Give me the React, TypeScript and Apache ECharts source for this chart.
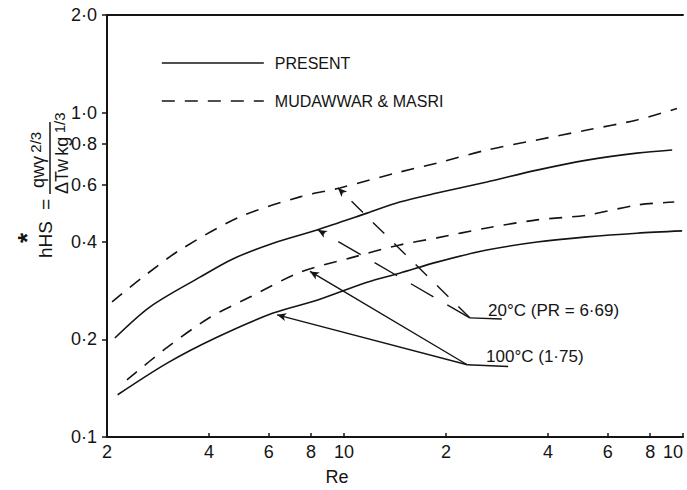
import React, { useEffect, useRef } from "react";
import * as echarts from "echarts";

const FONT = "'Liberation Sans', 'DejaVu Sans', sans-serif";
const INK = "#141414";

// Axis ticks
const xTickValues = [2, 4, 6, 8, 10, 20, 40, 60, 80, 100];
const xTickLabels = ["2", "4", "6", "8", "10", "2", "4", "6", "8", "10"];
const yTickValues = [0.1, 0.2, 0.4, 0.6, 0.8, 1, 2];
const yTickLabels = ["0·1", "0·2", "0·4", "0·6", "0·8", "1·0", "2·0"];

// Curves: [Re, h*HS]
const present20C = [
  [2.11, 0.202], [2.68, 0.252], [3.76, 0.311], [4.7, 0.354], [6.18, 0.396],
  [8.32, 0.435], [11.7, 0.49], [14.6, 0.53], [18.8, 0.565], [26.4, 0.611],
  [37.1, 0.665], [52.1, 0.714], [73.1, 0.75], [92.9, 0.767],
];
const mudawwar20C = [
  [2.07, 0.261], [2.55, 0.311], [3.28, 0.377], [4.93, 0.477], [7.42, 0.55],
  [9.73, 0.586], [14.6, 0.656], [18.8, 0.699], [26.4, 0.767], [37.1, 0.824],
  [52.1, 0.884], [73.1, 0.949], [96, 1.03],
];
const present100C = [
  [2.15, 0.135], [3.01, 0.169], [4.22, 0.203], [6.18, 0.241], [8.32, 0.264],
  [11.7, 0.3], [14.6, 0.32], [18.8, 0.346], [26.4, 0.377], [37.1, 0.399],
  [52.1, 0.414], [73.1, 0.425], [99.4, 0.432],
];
const mudawwar100C = [
  [2.29, 0.15], [3.01, 0.189], [4.03, 0.234], [5.28, 0.27], [7.42, 0.322],
  [10.4, 0.356], [14.6, 0.391], [18.8, 0.411], [26.4, 0.441], [37.1, 0.467],
  [52.1, 0.483], [73.1, 0.519], [94.2, 0.53],
];

// Annotation leaders
const hub20C = [23.5, 0.233];
const tail20C = [29.2, 0.231];
const hub100C = [23.1, 0.167];
const tail100C = [30.5, 0.165];
const arrowTo20Mudawwar = [9.6, 0.586];
const arrowTo20Present = [8.38, 0.435];
const arrowTo100Mudawwar = [7.94, 0.324];
const arrowTo100Present = [6.35, 0.238];
const label20C = { text: "20°C (PR = 6·69)", at: [26.6, 0.246] };
const label100C = { text: "100°C (1·75)", at: [26.25, 0.1765] };

const leader = (from: number[], to: number[], type: any, arrow = true) => [
  { coord: from, symbol: "none", lineStyle: { type, color: INK, width: 1.4 } },
  { coord: to, symbol: arrow ? "arrow" : "none", symbolSize: [6, 9] },
];

export default function App() {
  const ref = useRef<HTMLDivElement>(null);
  useEffect(() => {
    if (!ref.current) return;
    const chart = echarts.init(ref.current, undefined, { renderer: "svg" });
    const curveLine = (dashed: boolean) => ({
      color: INK,
      width: 1.6,
      type: dashed ? [13, 10] : "solid",
    });
    const option: any = {
      animation: false,
      backgroundColor: "#fff",
      textStyle: { fontFamily: FONT },
      grid: { left: 107, right: 4, top: 15, bottom: 53, containLabel: false, outerBoundsMode: "none" },
      legend: {
        data: ["PRESENT", "MUDAWWAR & MASRI"],
        orient: "vertical",
        left: 161,
        top: 55,
        padding: 0,
        itemWidth: 102,
        itemHeight: 14,
        itemGap: 22,
        selectedMode: false,
        itemStyle: { opacity: 0 },
        lineStyle: { width: 1.6 },
        textStyle: { color: INK, fontSize: 16, fontFamily: FONT, padding: [0, 0, 0, 6] },
      },
      xAxis: [
        {
          type: "log",
          min: 2,
          max: 100,
          logBase: 10,
          axisLine: { show: true, lineStyle: { color: INK, width: 2 } },
          axisTick: { show: true, inside: true, length: 4, customValues: xTickValues, lineStyle: { color: INK, width: 1.5 } },
          minorTick: { show: false },
          splitLine: { show: false },
          axisLabel: {
            customValues: xTickValues,
            color: INK,
            fontSize: 18,
            fontFamily: FONT,
            margin: 6,
            alignMaxLabel: "right",
            formatter: (v: number) => xTickLabels[xTickValues.indexOf(v)] ?? "",
          },
        },
        {
          type: "log",
          position: "top",
          min: 2,
          max: 100,
          axisLine: { show: true, lineStyle: { color: INK, width: 2 } },
          axisTick: { show: false },
          axisLabel: { show: false },
          splitLine: { show: false },
        },
      ],
      yAxis: {
        type: "log",
        min: 0.1,
        max: 2,
        logBase: 10,
        axisLine: { show: true, lineStyle: { color: INK, width: 2 } },
        axisTick: { show: true, length: 5, customValues: yTickValues, lineStyle: { color: INK, width: 1.5 } },
        minorTick: { show: false },
        splitLine: { show: false },
        axisLabel: {
          customValues: yTickValues,
          color: INK,
          fontSize: 18,
          fontFamily: FONT,
          margin: 10,
          formatter: (v: number) => {
            const i = yTickValues.findIndex((t) => Math.abs(t - v) < 1e-9);
            return i >= 0 ? yTickLabels[i] : "";
          },
        },
      },
      graphic: [
        {
          type: "group",
          x: 45,
          y: 258,
          rotation: Math.PI / 2,
          silent: true,
          children: [
            { type: "text", x: 0, y: 0, style: { text: "hHS", fontSize: 19, fontFamily: FONT, fill: INK, verticalAlign: "middle" } },
            { type: "text", x: 20, y: -18, style: { text: "*", fontSize: 26, fontWeight: "bold", fontFamily: FONT, fill: INK, align: "center", verticalAlign: "middle" } },
            { type: "text", x: 48, y: 0, style: { text: "=", fontSize: 19, fontFamily: FONT, fill: INK, verticalAlign: "middle" } },
            { type: "line", shape: { x1: 64, y1: 5, x2: 136, y2: 5 }, style: { stroke: INK, lineWidth: 1.5 } },
            {
              type: "text", x: 70, y: -7,
              style: {
                text: "{a|qwγ} {s|2/3}", fill: INK, verticalAlign: "middle",
                rich: { a: { fontSize: 18, fontFamily: FONT, fill: INK }, s: { fontSize: 15, fontFamily: FONT, fill: INK, padding: [0, 0, 6, 0] } },
              },
            },
            {
              type: "text", x: 64, y: 17,
              style: {
                text: "{a|ΔTw} {a|kg} {s|1/3}", fill: INK, verticalAlign: "middle",
                rich: { a: { fontSize: 18, fontFamily: FONT, fill: INK }, s: { fontSize: 15, fontFamily: FONT, fill: INK, padding: [0, 0, 6, 0] } },
              },
            },
          ],
        },
        { type: "text", x: 337, y: 477, style: { text: "Re", fontSize: 18, fontFamily: FONT, fill: INK, align: "center", verticalAlign: "middle" } },
      ],
      series: [
        { name: "PRESENT", type: "line", data: present20C, smooth: 0.3, symbol: "none", lineStyle: curveLine(false), color: INK },
        { name: "MUDAWWAR & MASRI", type: "line", data: mudawwar20C, smooth: 0.3, symbol: "none", lineStyle: curveLine(true), color: INK },
        { name: "PRESENT", type: "line", data: present100C, smooth: 0.3, symbol: "none", lineStyle: curveLine(false), color: INK },
        { name: "MUDAWWAR & MASRI", type: "line", data: mudawwar100C, smooth: 0.3, symbol: "none", lineStyle: curveLine(true), color: INK },
        {
          name: "annotations",
          type: "line",
          data: [],
          symbol: "none",
          markLine: {
            silent: true,
            animation: false,
            label: { show: false },
            emphasis: { disabled: true },
            data: [
              leader(hub20C, arrowTo20Mudawwar, [16, 14]),
              leader(hub20C, arrowTo20Present, [26, 16]),
              leader(hub20C, tail20C, "solid", false),
              leader(hub100C, arrowTo100Mudawwar, [150, 0]),
              leader(hub100C, arrowTo100Present, "solid"),
              leader(hub100C, tail100C, "solid", false),
            ],
          },
          markPoint: {
            silent: true,
            symbol: "circle",
            symbolSize: 0,
            label: { show: true, position: "right", distance: 0, color: INK, fontSize: 17, fontFamily: FONT, formatter: "{b}" },
            data: [
              { name: label20C.text, coord: label20C.at },
              { name: label100C.text, coord: label100C.at },
            ],
          },
        },
      ],
    };
    chart.setOption(option);
    return () => chart.dispose();
  }, []);
  return <div ref={ref} style={{ position: "fixed", left: 0, top: 0, width: 687, height: 490 }} />;
}
